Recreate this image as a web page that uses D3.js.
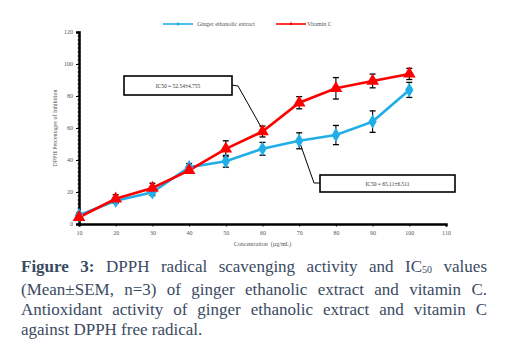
<!DOCTYPE html>
<html>
<head>
<meta charset="utf-8">
<script src="https://cdn.jsdelivr.net/npm/d3@7"></script>
<style>
  body { margin: 0; background: #fff; }
  #chart { position: relative; width: 506px; height: 345px; }
  #caption {
    position: absolute; left: 21px; top: 257px; width: 466px;
    font-family: "Liberation Serif", serif; font-size: 17px; color: #3a4a5f;
    line-height: 20px;
  }
  #caption div { text-align: justify; text-align-last: justify; white-space: nowrap; }
  #caption div.last { text-align-last: left; }
  #caption b { color: #3a4a5f; }
</style>
</head>
<body>
<div id="chart"></div>
<script>
// data
let concentrations = [10, 20, 30, 40, 50, 60, 70, 80, 90, 100];
let gingerMean = [5.5, 14.5, 19.8, 35.5, 39.2, 47, 52, 55.6, 64, 83.8];
let gingerSem = [1.5, 1.5, 2, 2.3, 3.7, 4, 5, 6, 6.7, 4.7];
let vitCMean = [4.2, 15.8, 22.5, 33.5, 47, 57.8, 75.8, 84.8, 89.4, 93.8];
let vitCSem = [1.2, 2.5, 3, 1.5, 5, 3.4, 3.8, 6.7, 4.3, 3.5];
let xTicks = [10, 20, 30, 40, 50, 60, 70, 80, 90, 100, 110];
let yTicks = [0, 20, 40, 60, 80, 100, 120];
let seriesNames = ["Ginger ethanolic extract", "Vitamin C"];
let ic50Labels = ["IC50 = 52.54±4.755", "IC50 = 65.11±6.511"];

let width = 506, height = 345;

let svg = d3.select("#chart")
    .append("svg")
    .attr("width", width)
    .attr("height", height)
    .style("position", "absolute");

let xScale = d3.scaleLinear().domain([10, 110]).range([79, 446]);
let yScale = d3.scaleLinear().domain([0, 120]).range([224, 32]);

let tickFont = "Liberation Serif, serif";

// minor ticks on y axis
svg.append("g").selectAll("line")
    .data(d3.range(0, 120.1, 2.5))
    .enter()
    .append("line")
    .attr("x1", xScale(10) - 1.5)
    .attr("x2", xScale(10) + 1.5)
    .attr("y1", d => yScale(d))
    .attr("y2", d => yScale(d))
    .attr("stroke", "#000")
    .attr("stroke-width", 0.8);

// y axis
let yAxis = d3.axisLeft(yScale).tickValues(yTicks).tickSize(3).tickPadding(3);
let yG = svg.append("g")
    .attr("transform", `translate(${xScale(10)}, 0)`)
    .call(yAxis);
yG.select(".domain").attr("stroke-width", 2.5);
yG.selectAll(".tick line").attr("stroke-width", 1);
yG.selectAll("text").attr("font-family", tickFont).attr("font-size", 6).attr("fill", "#555");

// x axis
let xAxis = d3.axisBottom(xScale).tickValues(xTicks).tickSize(2.5).tickPadding(4);
let xG = svg.append("g")
    .attr("transform", `translate(0, ${yScale(0)})`)
    .call(xAxis);
xG.select(".domain").attr("stroke-width", 2.5);
xG.selectAll(".tick line").attr("stroke-width", 1);
xG.selectAll("text").attr("font-family", tickFont).attr("font-size", 6).attr("fill", "#555");

// axis titles
svg.append("text")
    .attr("transform", `translate(57, ${yScale(60)}) rotate(-90)`)
    .attr("text-anchor", "middle")
    .attr("font-family", tickFont)
    .attr("font-size", 6)
    .attr("fill", "#555")
    .text("DPPH Percentages of Inhibition");

svg.append("text")
    .attr("x", xScale(60))
    .attr("y", 246)
    .attr("text-anchor", "middle")
    .attr("font-family", tickFont)
    .attr("font-size", 6)
    .attr("fill", "#555")
    .attr("xml:space", "preserve")
    .text("Concentration  (µg/mL)");

// IC50 annotations
function annotate(label, box, points) {
    svg.append("polyline")
        .attr("points", points.map(p => p.join(",")).join(" "))
        .attr("fill", "none")
        .attr("stroke", "#000")
        .attr("stroke-width", 1);
    svg.append("rect")
        .attr("x", box.x).attr("y", box.y)
        .attr("width", box.w).attr("height", box.h)
        .attr("fill", "#fff")
        .attr("stroke", "#000")
        .attr("stroke-width", 1.6);
    svg.append("text")
        .attr("x", box.x + box.w / 2)
        .attr("y", box.y + box.h / 2 + 2)
        .attr("text-anchor", "middle")
        .attr("font-family", tickFont)
        .attr("font-size", 5.5)
        .attr("fill", "#333")
        .text(label);
}

annotate(ic50Labels[0], {x: 124, y: 76, w: 108, h: 19},
    [[232, 85], [238, 86], [xScale(60), yScale(vitCMean[5]) - 2]]);
annotate(ic50Labels[1], {x: 320, y: 175, w: 135, h: 17},
    [[320, 183], [314, 183], [xScale(70), yScale(gingerMean[6])]]);

// series
let series = [
    {name: seriesNames[0], mean: gingerMean, sem: gingerSem, color: "#21aee6", shape: d3.symbolDiamond, size: 60},
    {name: seriesNames[1], mean: vitCMean, sem: vitCSem, color: "#ff0000", shape: d3.symbolTriangle, size: 70}
];

let line = d3.line()
    .x((d, i) => xScale(concentrations[i]))
    .y(d => yScale(d));

series.forEach(function(s) {
    svg.append("path")
        .datum(s.mean)
        .attr("d", line)
        .attr("fill", "none")
        .attr("stroke", s.color)
        .attr("stroke-width", 2.6);
});

// error bars
series.forEach(function(s) {
    let g = svg.append("g");
    s.mean.forEach(function(m, i) {
        let x = xScale(concentrations[i]);
        let y1 = yScale(m + s.sem[i]), y2 = yScale(m - s.sem[i]);
        g.append("line").attr("x1", x).attr("x2", x).attr("y1", y1).attr("y2", y2)
            .attr("stroke", "#000").attr("stroke-width", 1.1);
        [y1, y2].forEach(function(y) {
            g.append("line").attr("x1", x - 3).attr("x2", x + 3).attr("y1", y).attr("y2", y)
                .attr("stroke", "#000").attr("stroke-width", 1.3);
        });
    });
});

// markers
series.forEach(function(s) {
    svg.append("g").selectAll("path")
        .data(s.mean)
        .enter()
        .append("path")
        .attr("transform", (d, i) => `translate(${xScale(concentrations[i])}, ${yScale(d)})`)
        .attr("d", d3.symbol().type(s.shape).size(s.size))
        .attr("fill", s.color);
});

// legend
let legendItems = [{x: 163, textX: 197}, {x: 276, textX: 307}];
series.forEach(function(s, i) {
    let lg = svg.append("g");
    lg.append("line")
        .attr("x1", legendItems[i].x).attr("x2", legendItems[i].x + 30)
        .attr("y1", 24).attr("y2", 24)
        .attr("stroke", s.color).attr("stroke-width", 1.6);
    lg.append("path")
        .attr("transform", `translate(${legendItems[i].x + 15}, 24)`)
        .attr("d", d3.symbol().type(s.shape).size(6))
        .attr("fill", s.color);
    lg.append("text")
        .attr("x", legendItems[i].textX)
        .attr("y", 26)
        .attr("font-family", tickFont)
        .attr("font-size", 6)
        .attr("fill", "#555")
        .text(s.name);
});

// caption
let caption = d3.select("#chart").append("div").attr("id", "caption");
caption.append("div").html("<b>Figure 3:</b> DPPH radical scavenging activity and IC<sub style='font-size:10px;vertical-align:-1px'>50</sub> values");
caption.append("div").text("(Mean±SEM, n=3) of ginger ethanolic extract and vitamin C.");
caption.append("div").text("Antioxidant activity of ginger ethanolic extract and vitamin C");
caption.append("div").attr("class", "last").text("against DPPH free radical.");
</script>
</body>
</html>
